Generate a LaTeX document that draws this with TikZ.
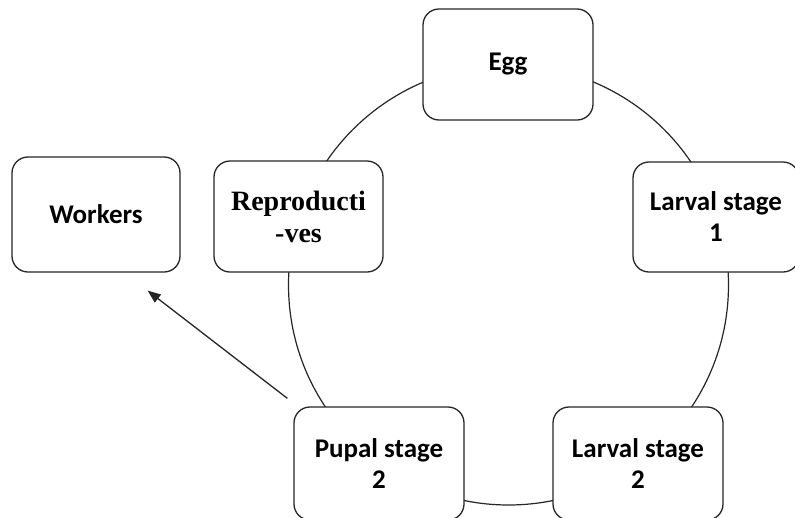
\documentclass[tikz,border=0pt]{standalone}
\usepackage{fontspec}
\setmainfont{Carlito}
\newfontfamily\serifbold{Liberation Serif}
\usetikzlibrary{arrows.meta}
\begin{document}
\begin{tikzpicture}[x=1pt,y=-1pt,
  stagebox/.style={draw=black!85, line width=1.3pt, rounded corners=16pt, fill=white,
    inner sep=0pt, align=center, font=\fontsize{27}{31}\selectfont\bfseries},
  cyc/.style={draw=black!85, line width=1.2pt},
  arr/.style={draw=black!85, line width=1.3pt, -{Triangle[length=13pt,width=10pt]}}]
\clip (0,0) rectangle (795,517);
\fill[white] (0,0) rectangle (795,517);
\draw[cyc] (508.5,285) circle [radius=220pt];
\node[stagebox, minimum width=170pt, minimum height=111pt] (egg) at (508,64.5) {Egg};
\node[stagebox, minimum width=166pt, minimum height=110pt] (l1) at (716,217) {Larval stage\\1};
\node[stagebox, minimum width=170pt, minimum height=113pt] (l2) at (638,463.5) {Larval stage\\2};
\node[stagebox, minimum width=170pt, minimum height=113pt] (pupa) at (379,463.5) {Pupal stage\\2};
\node[stagebox, minimum width=169pt, minimum height=111pt,
  font=\fontsize{28}{32}\selectfont\serifbold\bfseries] (repro) at (298.5,216.5) {Reproducti\\-ves};
\node[stagebox, minimum width=168pt, minimum height=115pt] (workers) at (96,214.5) {Workers};
\draw[arr] ([shift={(-6,-8)}]pupa.north west) -- ([shift={(-33,18)}]workers.south east);
\end{tikzpicture}
\end{document}
